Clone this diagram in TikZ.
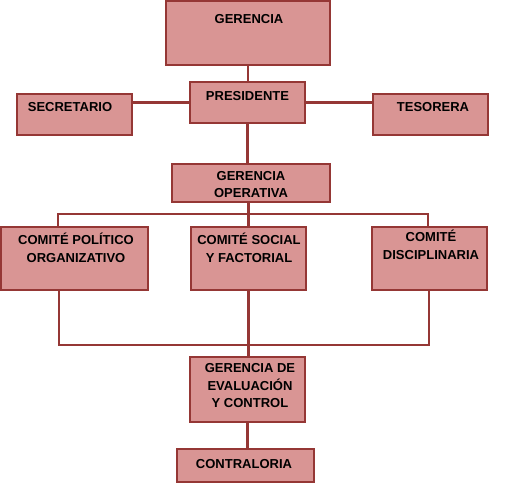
\documentclass[tikz,border=0pt]{standalone}
\usepackage{fontspec}
\setmainfont{Liberation Sans}
\definecolor{boxfill}{HTML}{D99594}
\definecolor{boxline}{HTML}{953735}
\begin{document}
\begin{tikzpicture}[x=0.02cm, y=-0.02cm,
  box/.style={draw=boxline, fill=boxfill, line width=1.1pt, inner sep=0pt},
  txt/.style={font=\fontsize{7.4}{10}\selectfont\bfseries, align=center, inner sep=0pt, anchor=base},
  link/.style={draw=boxline, line width=1.5pt}]
  \useasboundingbox (0,0) rectangle (507,492);
  % Boxes
  \node[box, minimum width=3.28cm, minimum height=1.28cm] (ger) at (248,33) {};
  \node[box, minimum width=2.3cm, minimum height=0.82cm] (pres) at (247.5,102.5) {};
  \node[box, minimum width=2.3cm, minimum height=0.82cm] (sec) at (74.5,114.5) {};
  \node[box, minimum width=2.3cm, minimum height=0.82cm] (tes) at (430.5,114.5) {};
  \node[box, minimum width=3.16cm, minimum height=0.76cm] (gop) at (251,183) {};
  \node[box, minimum width=2.94cm, minimum height=1.26cm] (cpo) at (74.5,258.5) {};
  \node[box, minimum width=2.3cm, minimum height=1.26cm] (cso) at (248.5,258.5) {};
  \node[box, minimum width=2.3cm, minimum height=1.26cm] (cdi) at (429.5,258.5) {};
  \node[box, minimum width=2.3cm, minimum height=1.3cm] (gev) at (247.5,389.5) {};
  \node[box, minimum width=2.74cm, minimum height=0.66cm] (con) at (245.5,465.5) {};
  % Labels (base = last line)
  \node[txt] (tger) at (249,24) {GERENCIA};
  \node[txt] (tpres) at (247.5,101) {PRESIDENTE};
  \node[txt] (tsec) at (70,112) {SECRETARIO};
  \node[txt] (ttes) at (433,112) {TESORERA};
  \node[txt] (tgop) at (251,198) {GERENCIA\\OPERATIVA};
  \node[txt] (tcpo) at (76,262.5) {COMITÉ POLÍTICO\\ORGANIZATIVO};
  \node[txt] (tcso) at (249,262.5) {COMITÉ SOCIAL\\Y FACTORIAL};
  \node[txt] (tcdi) at (431,259.5) {COMITÉ\\DISCIPLINARIA};
  \node[txt] (tgev) at (250,408) {GERENCIA DE\\EVALUACIÓN\\Y CONTROL};
  \node[txt] (tcon) at (244,469) {CONTRALORIA};
  % Links
  \coordinate (busl) at (58,214); \coordinate (busr) at (428,214);
  \coordinate (jl) at (59,345); \coordinate (jr) at (429,345);
  \draw[link] (ger.south) -- (ger.south |- pres.north);
  \draw[link] (pres.west) -- (pres.west -| sec.east);
  \draw[link] (pres.east) -- (pres.east -| tes.west);
  \draw[link] (pres.south) -- (pres.south |- gop.north);
  \draw[link] (cso.north |- gop.south) -- (cso.north);
  \draw[link] (busl |- cpo.north) -- (busl) -- (busr) -- (busr |- cdi.north);
  \draw[link] (jl |- cpo.south) -- (jl) -- (jr) -- (jr |- cdi.south);
  \draw[link] (cso.south) -- (cso.south |- gev.north);
  \draw[link] (gev.south) -- (gev.south |- con.north);
\end{tikzpicture}
\end{document}
